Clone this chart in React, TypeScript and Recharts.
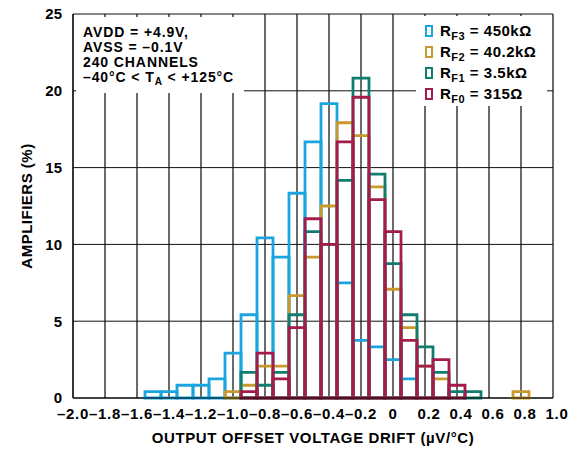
import React from 'react';
import { BarChart, Bar, XAxis, YAxis, CartesianGrid, Legend } from 'recharts';

// bin centres (µV/°C), 0.1 wide
const bins = [-1.5, -1.4, -1.3, -1.2, -1.1, -1.0, -0.9, -0.8, -0.7, -0.6, -0.5, -0.4, -0.3, -0.2, -0.1, 0, 0.1, 0.2, 0.3, 0.4, 0.5, 0.6, 0.7, 0.8];

// % of amplifiers per bin
const rf3 = [0.42, 0.42, 0.83, 0.83, 1.25, 2.92, 5.42, 10.42, 9.17, 13.33, 16.67, 19.17, 7.5, 3.75, 3.33, 2.5, 1.25, 0, 0, 0, 0, 0, 0, 0];
const rf2 = [0, 0, 0, 0, 0, 0.42, 0.83, 2.08, 2.08, 6.67, 9.17, 12.5, 17.92, 17.08, 13.75, 7.08, 4.58, 2.08, 1.25, 0, 0, 0, 0, 0.42];
const rf1 = [0, 0, 0, 0, 0, 0, 1.67, 0.83, 1.67, 5.42, 10.83, 10.0, 14.17, 20.83, 14.58, 8.75, 5.42, 3.33, 1.67, 0.42, 0.42, 0, 0, 0];
const rf0 = [0, 0, 0, 0, 0, 0, 0.42, 2.92, 1.25, 4.58, 11.67, 10.0, 16.67, 19.58, 12.92, 10.83, 3.75, 2.08, 2.5, 0.83, 0, 0, 0, 0];

const seriesKeys = ['rf3', 'rf2', 'rf1', 'rf0'];
const seriesSubs = ['F3', 'F2', 'F1', 'F0'];
const seriesValues = ['450kΩ', '40.2kΩ', '3.5kΩ', '315Ω'];
const seriesColors = ['#1AA5DE', '#C9992D', '#0F7D70', '#A31C4B'];

const minorTicks = [-2.0, -1.9, -1.8, -1.7, -1.6, -1.5, -1.4, -1.3, -1.2, -1.1, -1.0, -0.9, -0.8, -0.7, -0.6, -0.5, -0.4, -0.3, -0.2, -0.1, 0, 0.1, 0.2, 0.3, 0.4, 0.5, 0.6, 0.7, 0.8, 0.9, 1.0];
const majorTicks = [-2.0, -1.8, -1.6, -1.4, -1.2, -1.0, -0.8, -0.6, -0.4, -0.2, 0, 0.2, 0.4, 0.6, 0.8, 1.0];
const xTickLabels = ['\u20132.0', '\u20131.8', '\u20131.6', '\u20131.4', '\u20131.2', '\u20131.0', '\u20130.8', '\u20130.6', '\u20130.4', '\u20130.2', '0', '0.2', '0.4', '0.6', '0.8', '1.0'];
const yTicks = [0, 5, 10, 15, 20, 25];

const noteLines = ['AVDD = +4.9V,', 'AVSS = \u20130.1V', '240 CHANNELS'];

const data = bins.map((x, i) => ({ x, rf3: rf3[i], rf2: rf2[i], rf1: rf1[i], rf0: rf0[i] }));

const FONT = '"Liberation Sans", Arial, Helvetica, sans-serif';

const XTick = (props: any) => (
  <text x={props.x} y={props.y} dy="0.71em" dx={props.payload.value > 0 ? 4 : 0} textAnchor="middle"
    fontFamily={FONT} fontSize={15} fontWeight={700} fill="#000" style={{ letterSpacing: 0.7 }}>
    {xTickLabels[props.index]}
  </text>
);

const YTick = (props: any) => (
  <text x={props.x} y={props.y} dy="0.355em" textAnchor="end" fontFamily={FONT}
    fontSize={15} fontWeight={700} fill="#000">
    {props.payload.value}
  </text>
);

const XTitle = ({ viewBox }: any) => (
  <text x={viewBox.x + viewBox.width / 2} y={viewBox.y + viewBox.height - 6} textAnchor="middle"
    fontFamily={FONT} fontSize={15} fontWeight={700} fill="#000" style={{ letterSpacing: 0.6 }}>
    OUTPUT OFFSET VOLTAGE DRIFT (µV/°C)
  </text>
);

const YTitle = ({ viewBox }: any) => {
  const cx = viewBox.x + 26;
  const cy = viewBox.y + viewBox.height / 2;
  return (
    <text x={cx} y={cy} transform={`rotate(-90 ${cx} ${cy})`} textAnchor="middle" dominantBaseline="central"
      fontFamily={FONT} fontSize={15} fontWeight={700} fill="#000" style={{ letterSpacing: 0.5 }}>
      AMPLIFIERS (%)
    </text>
  );
};

const subStyle: React.CSSProperties = { fontSize: 11, position: 'relative', top: 4, verticalAlign: 'baseline', lineHeight: 0 };

const renderLegend = () => (
  <div style={{ background: '#fff', width: '100%', height: '100%', paddingTop: 4, boxSizing: 'border-box' }}>
    {seriesKeys.map((k, i) => (
      <div key={k} style={{ display: 'flex', alignItems: 'center', height: 21 }}>
        <span style={{ display: 'inline-block', width: 4, height: 8, marginLeft: 9, marginRight: 7, border: `2.5px solid ${seriesColors[i]}` }} />
        <span style={{ fontFamily: FONT, fontSize: 15, fontWeight: 700, letterSpacing: 0.5, color: '#000', whiteSpace: 'nowrap' }}>
          R<span style={subStyle}>{seriesSubs[i]}</span> = {seriesValues[i]}
        </span>
      </div>
    ))}
  </div>
);

export default function App() {
  return (
    <div style={{ position: 'absolute', left: 0, top: 0, width: 575, height: 449, background: '#fff', fontFamily: FONT }}>
      <BarChart width={575} height={449} data={data} margin={{ top: 14, right: 22, bottom: 0, left: 0 }} barCategoryGap={0}>
        <XAxis xAxisId="main" dataKey="x" type="number" domain={[-2, 1]} ticks={majorTicks} interval={0}
          tick={XTick} tickLine={false} tickSize={0} tickMargin={10} height={51}
          axisLine={{ stroke: '#000', strokeWidth: 1 }} label={{ content: XTitle }} />
        {seriesKeys.map((k) => (
          <XAxis key={k} xAxisId={k} dataKey="x" type="number" domain={[-2, 1]} ticks={minorTicks} hide />
        ))}
        <YAxis domain={[0, 25]} ticks={yTicks} interval={0} tick={YTick} tickLine={false} tickSize={0}
          tickMargin={11} width={73} axisLine={{ stroke: '#000', strokeWidth: 1 }} label={{ content: YTitle }} />
        <CartesianGrid xAxisId="rf3" horizontal={false} stroke="#8c8c8c" strokeWidth={1} />
        <CartesianGrid xAxisId="main" stroke="#111" strokeWidth={1} />
        {seriesKeys.map((k, i) => (
          <Bar key={k} xAxisId={k} dataKey={k} fill="none" stroke={seriesColors[i]} strokeWidth={2.8}
            isAnimationActive={false} />
        ))}
        <Legend layout="vertical" align="center" verticalAlign="middle" content={renderLegend}
          wrapperStyle={{ left: 416, top: 16, width: 131, height: 90 }} />
      </BarChart>
      <div style={{ position: 'absolute', left: 76, top: 17, width: 168, height: 76, background: '#fff', boxSizing: 'border-box', paddingLeft: 7, paddingTop: 8 }}>
        {noteLines.map((t) => (
          <div key={t} style={{ fontSize: 14, fontWeight: 700, lineHeight: '15px', letterSpacing: 0.9, whiteSpace: 'nowrap' }}>{t}</div>
        ))}
        <div style={{ fontSize: 14, fontWeight: 700, lineHeight: '15px', letterSpacing: 0.9, whiteSpace: 'nowrap' }}>
          {'\u2013'}40°C {'<'} T<span style={{ ...subStyle, fontSize: 10, top: 3 }}>A</span> {'<'} +125°C
        </div>
      </div>
    </div>
  );
}
